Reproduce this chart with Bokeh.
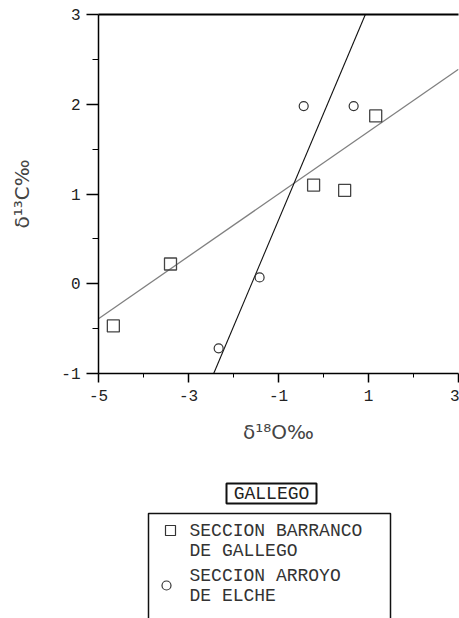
from bokeh.plotting import figure
from bokeh.models import Range1d, FixedTicker, LinearAxis, Label, BoxAnnotation
from bokeh.layouts import column
from bokeh.embed import file_html
from bokeh.resources import INLINE

# ---- data ----
gallego_x = [-4.67, -3.40, -0.22, 0.47, 1.16]
gallego_y = [-0.47, 0.22, 1.10, 1.04, 1.87]
elche_x = [-2.33, -1.42, -0.44, 0.67]
elche_y = [-0.72, 0.07, 1.98, 1.98]

gallego_fit_x = [-5.0, 3.0]
gallego_fit_y = [-0.39, 2.39]
elche_fit_x = [-2.44, 0.93]
elche_fit_y = [-1.0, 3.0]

x_ticks = [-5, -3, -1, 1, 3]
x_minor = [-4, -2, 0, 2]
x_tick_labels = ["-5", "-3", "-1", "1", "3"]
y_ticks = [-1, 0, 1, 2, 3]
y_minor = [-0.5, 0.5, 1.5, 2.5]
y_tick_labels = ["-1", "0", "1", "2", "3"]

x_title = "δ¹⁸O‰"
y_title = "δ¹³C‰"
legend_title = "GALLEGO"
legend_lines_1 = ["SECCION BARRANCO", "DE GALLEGO"]
legend_lines_2 = ["SECCION ARROYO", "DE ELCHE"]

MONO = "Liberation Mono"
SANS = "DejaVu Sans"

# ---- main plot ----
p = figure(width=459, height=453,
           x_range=Range1d(-5, 3), y_range=Range1d(-1, 3),
           output_backend="svg", toolbar_location=None,
           min_border_left=98, min_border_right=1,
           min_border_top=14, min_border_bottom=80,
           background_fill_color="white", border_fill_color="white")
p.outline_line_color = None
p.grid.visible = False

xa = p.xaxis[0]
xa.ticker = FixedTicker(ticks=x_ticks, minor_ticks=x_minor)
xa.major_label_overrides = {t: l for t, l in zip(x_ticks, x_tick_labels)}
xa.major_tick_out = 9
xa.major_tick_in = 0
xa.minor_tick_out = 4
xa.minor_tick_in = 0
xa.major_label_standoff = 7
xa.major_label_text_font = MONO
xa.major_label_text_font_size = "16px"
xa.major_label_text_color = "#222222"
xa.axis_line_width = 1.5
xa.major_tick_line_width = 1.5
xa.axis_label = x_title
xa.axis_label_text_font = SANS
xa.axis_label_text_font_size = "20px"
xa.axis_label_text_font_style = "normal"
xa.axis_label_standoff = 16

ya = p.yaxis[0]
ya.ticker = FixedTicker(ticks=y_ticks, minor_ticks=y_minor)
ya.major_label_overrides = {t: l for t, l in zip(y_ticks, y_tick_labels)}
ya.major_tick_out = 12
ya.major_tick_in = 0
ya.minor_tick_out = 6
ya.minor_tick_in = 0
ya.major_label_standoff = 6
ya.major_label_text_font = MONO
ya.major_label_text_font_size = "16px"
ya.major_label_text_color = "#222222"
ya.axis_line_width = 1.5
ya.major_tick_line_width = 1.5
ya.axis_label = y_title
ya.axis_label_text_font = SANS
ya.axis_label_text_font_size = "20px"
ya.axis_label_text_font_style = "normal"
ya.axis_label_standoff = 24

top_axis = LinearAxis(ticker=FixedTicker(ticks=[]), axis_line_width=2,
                      major_tick_line_color=None, minor_tick_line_color=None,
                      major_label_text_font_size="0px", major_label_standoff=0)
p.add_layout(top_axis, "above")

p.line(gallego_fit_x, gallego_fit_y, line_color="#808080", line_width=1.3)
p.line(elche_fit_x, elche_fit_y, line_color="#111111", line_width=1.1)

p.scatter(gallego_x, gallego_y, marker="square", size=12,
          line_color="#444444", line_width=1.3, fill_color=None)
p.scatter(elche_x, elche_y, marker="circle", size=9,
          line_color="#333333", line_width=1.2, fill_color=None)

# ---- legend panel (layout coordinates = page pixels) ----
leg = figure(width=459, height=165,
             x_range=Range1d(98, 458), y_range=Range1d(618, 453),
             output_backend="svg", toolbar_location=None,
             x_axis_location=None, y_axis_location=None,
             min_border_left=98, min_border_right=1,
             min_border_top=0, min_border_bottom=0,
             background_fill_color="white", border_fill_color="white")
leg.outline_line_color = None
leg.grid.visible = False

leg.add_layout(BoxAnnotation(left=226, right=316, top=483, bottom=503,
                             fill_alpha=0, line_color="#111111",
                             line_alpha=1.0, line_width=2))
leg.add_layout(Label(x=271, y=493, text=legend_title, text_font=MONO,
                     text_font_size="18px", text_align="center",
                     text_baseline="middle", text_color="#222222"))
leg.add_layout(BoxAnnotation(left=148, right=390, top=513, bottom=640,
                             fill_alpha=0, line_color="#111111",
                             line_alpha=1.0, line_width=1.5))

leg.scatter([170], [530], marker="square", size=10, line_color="#333333",
            line_width=1.2, fill_color=None)
leg.scatter([166], [585], marker="circle", size=9, line_color="#333333",
            line_width=1.2, fill_color=None)

for txt, yy in zip(legend_lines_1 + legend_lines_2, [530, 550, 575, 595]):
    leg.add_layout(Label(x=189, y=yy, text=txt, text_font=MONO,
                         text_font_size="18px", text_align="left",
                         text_baseline="middle", text_color="#333333"))

layout = column(p, leg, spacing=0)
open("out.html", "w").write(file_html(layout, INLINE))
